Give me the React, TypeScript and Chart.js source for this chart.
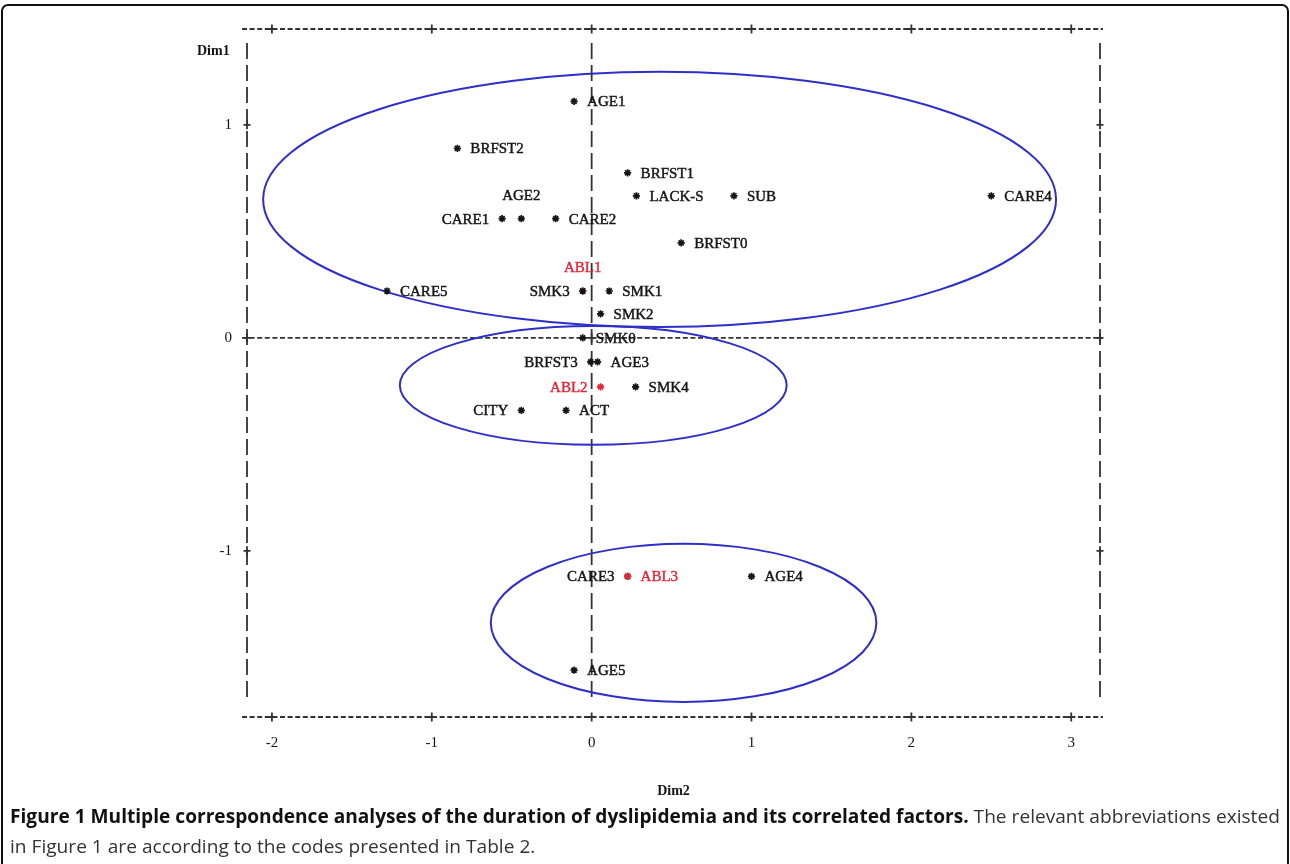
import React, { useEffect, useLayoutEffect, useRef, useState } from "react";
import { Chart, registerables } from "chart.js";

Chart.register(...registerables);

// ---------- data ----------
const pointLabels = [
  "AGE1", "BRFST2", "BRFST1", "LACK-S", "SUB", "CARE4", "CARE1", "AGE2", "CARE2",
  "BRFST0", "ABL1", "SMK3", "SMK1", "SMK2", "CARE5", "SMK0", "BRFST3", "AGE3",
  "ABL2", "SMK4", "CITY", "ACT", "CARE3", "ABL3", "AGE4", "AGE5",
];
const dim2Values = [
  -0.11, -0.84, 0.225, 0.28, 0.89, 2.5, -0.56, -0.44, -0.225,
  0.56, -0.056, -0.056, 0.11, 0.056, -1.28, -0.056, -0.006, 0.037,
  0.056, 0.275, -0.44, -0.16, 0.225, 0.225, 1.0, -0.11,
];
const dim1Values = [
  1.11, 0.89, 0.775, 0.667, 0.667, 0.667, 0.56, 0.56, 0.56,
  0.446, 0.22, 0.22, 0.22, 0.113, 0.22, 0.0, -0.113, -0.113,
  -0.23, -0.23, -0.34, -0.34, -1.12, -1.12, -1.12, -1.56,
];
// label side: r = right of mark, l = left of mark, a = above mark
const labelSide = [
  "r", "r", "r", "r", "r", "r", "l", "a", "r",
  "r", "a", "l", "r", "r", "r", "r", "l", "r",
  "l", "r", "l", "r", "l", "r", "r", "r",
];
const highlightedLabels = ["ABL1", "ABL2", "ABL3"];

const ellipseCx = [0.425, 0.01, 0.575];
const ellipseCy = [0.65, -0.223, -1.338];
const ellipseRx = [2.48, 1.21, 1.206];
const ellipseRy = [0.599, 0.279, 0.371];

const xTickValues = [-2, -1, 0, 1, 2, 3];
const xTickLabels = ["-2", "-1", "0", "1", "2", "3"];
const yTickValues = [-1, 0, 1];
const yTickLabels = ["-1", "0", "1"];

const X_MIN = -2.156;
const X_MAX = 3.18;
const Y_MIN = -1.78;
const Y_MAX = 1.45;

const xAxisTitle = "Dim2";
const yAxisTitle = "Dim1";

const captionBold =
  "Figure 1 Multiple correspondence analyses of the duration of dyslipidemia and its correlated factors.";
const captionRest1 = " The relevant abbreviations existed";
const captionLine2 = "in Figure 1 are according to the codes presented in Table 2.";

// ---------- styles ----------
const RED = "#e3283a";
const BLACK = "#151515";
const LINE = "#333333";
const ELLIPSE = "#2f2fc8";
const PLOT_FONT = '"Liberation Serif", "DejaVu Serif", serif';

export default function App() {
  const canvasRef = useRef<HTMLCanvasElement>(null);
  const line1Ref = useRef<HTMLSpanElement>(null);
  const [sx, setSx] = useState(1);

  useLayoutEffect(() => {
    const el = line1Ref.current;
    if (el && el.offsetWidth > 0) setSx(1270 / el.offsetWidth);
  }, []);

  useEffect(() => {
    const canvas = canvasRef.current;
    if (!canvas) return;
    const points = dim2Values.map((x, i) => ({ x, y: dim1Values[i] }));
    const colors = pointLabels.map((l) => (highlightedLabels.includes(l) ? RED : BLACK));

    const overlay = {
      id: "overlay",
      beforeDatasetsDraw(chart: any) {
        const { ctx, chartArea: ca, scales } = chart;
        const xs = scales.x;
        const ys = scales.y;
        const x0 = xs.getPixelForValue(0);
        const y0 = ys.getPixelForValue(0);
        ctx.save();
        ctx.strokeStyle = LINE;
        ctx.lineWidth = 1.8;
        // horizontal dashed lines
        ctx.setLineDash([5, 2.6]);
        for (const yy of [ca.top, ca.bottom, y0]) {
          ctx.beginPath();
          ctx.moveTo(ca.left - 5, yy);
          ctx.lineTo(ca.right + 3, yy);
          ctx.stroke();
        }
        // vertical dashed lines
        ctx.setLineDash([16, 6]);
        for (const xx of [ca.left, ca.right, x0]) {
          ctx.beginPath();
          ctx.moveTo(xx, ca.top + 14);
          ctx.lineTo(xx, ca.bottom - 14);
          ctx.stroke();
        }
        ctx.setLineDash([]);
        // plus tick marks
        ctx.lineWidth = 1.8;
        const plus = (px: number, py: number) => {
          ctx.beginPath();
          ctx.moveTo(px - 3.5, py);
          ctx.lineTo(px + 3.5, py);
          ctx.moveTo(px, py - 4.5);
          ctx.lineTo(px, py + 4.5);
          ctx.stroke();
        };
        xs.ticks.forEach((t: any) => {
          const px = xs.getPixelForValue(t.value);
          plus(px, ca.top);
          plus(px, ca.bottom);
        });
        ys.ticks.forEach((t: any) => {
          const py = ys.getPixelForValue(t.value);
          plus(ca.left, py);
          plus(ca.right, py);
        });
        plus(x0, y0);
        // ellipses
        ctx.strokeStyle = ELLIPSE;
        ctx.lineWidth = 2;
        for (let i = 0; i < ellipseCx.length; i++) {
          const cx = xs.getPixelForValue(ellipseCx[i]);
          const cy = ys.getPixelForValue(ellipseCy[i]);
          const rx = xs.getPixelForValue(ellipseCx[i] + ellipseRx[i]) - cx;
          const ry = cy - ys.getPixelForValue(ellipseCy[i] + ellipseRy[i]);
          ctx.beginPath();
          ctx.ellipse(cx, cy, rx, ry, 0, 0, Math.PI * 2);
          ctx.stroke();
        }
        ctx.restore();
      },
      afterDatasetsDraw(chart: any) {
        const { ctx, chartArea: ca } = chart;
        const meta = chart.getDatasetMeta(0);
        ctx.save();
        ctx.font = `15px ${PLOT_FONT}`;
        ctx.textBaseline = "middle";
        ctx.lineWidth = 0.45;
        meta.data.forEach((el: any, i: number) => {
          const label = pointLabels[i];
          const c = highlightedLabels.includes(label) ? RED : BLACK;
          ctx.fillStyle = c;
          ctx.strokeStyle = c;
          const side = labelSide[i];
          let tx = el.x;
          let ty = el.y + 1;
          if (side === "r") {
            ctx.textAlign = "left";
            tx = el.x + 13;
          } else if (side === "l") {
            ctx.textAlign = "right";
            tx = el.x - 13;
          } else {
            ctx.textAlign = "center";
            ty = el.y - 23;
          }
          ctx.fillText(label, tx, ty);
          ctx.strokeText(label, tx, ty);
        });
        ctx.font = `bold 14px ${PLOT_FONT}`;
        ctx.fillStyle = BLACK;
        ctx.textAlign = "left";
        ctx.fillText(yAxisTitle, ca.left - 50, ca.top + 22);
        ctx.restore();
      },
    };

    const chart = new Chart(canvas, {
      type: "scatter",
      data: {
        datasets: [
          {
            data: points,
            pointStyle: "star",
            pointRadius: 3.6,
            pointHoverRadius: 3.6,
            pointBorderWidth: 1.7,
            pointBorderColor: colors,
            pointBackgroundColor: colors,
          } as any,
        ],
      },
      options: {
        responsive: false,
        animation: false,
        events: [],
        layout: { padding: { left: 0, top: 29, right: 190, bottom: 64 } },
        plugins: { legend: { display: false }, tooltip: { enabled: false } },
        scales: {
          x: {
            type: "linear",
            min: X_MIN,
            max: X_MAX,
            afterBuildTicks: (s: any) => {
              s.ticks = xTickValues.map((v) => ({ value: v }));
            },
            afterFit: (s: any) => {
              s.height = 83;
            },
            grid: { display: false, drawTicks: false },
            border: { display: false },
            ticks: {
              font: { family: PLOT_FONT, size: 15 },
              color: BLACK,
              padding: 17,
              maxRotation: 0,
              autoSkip: false,
              callback: (_v: any, i: number) => xTickLabels[i],
            },
            title: {
              display: true,
              text: xAxisTitle,
              font: { family: PLOT_FONT, size: 14, weight: "bold" },
              color: BLACK,
              padding: 0,
            },
          },
          y: {
            type: "linear",
            min: Y_MIN,
            max: Y_MAX,
            afterBuildTicks: (s: any) => {
              s.ticks = yTickValues.map((v) => ({ value: v }));
            },
            afterFit: (s: any) => {
              s.width = 247;
            },
            grid: { display: false, drawTicks: false },
            border: { display: false },
            ticks: {
              font: { family: PLOT_FONT, size: 15 },
              color: BLACK,
              padding: 15,
              autoSkip: false,
              callback: (_v: any, i: number) => yTickLabels[i],
            },
          },
        },
      } as any,
      plugins: [overlay],
    });
    return () => chart.destroy();
  }, []);

  return (
    <div
      style={{
        position: "fixed",
        left: 0,
        top: 0,
        width: 1290,
        height: 864,
        overflow: "hidden",
        background: "#fff",
      }}
    >
      <div
        style={{
          position: "absolute",
          left: 1,
          top: 4,
          width: 1284,
          height: 900,
          border: "2px solid #111",
          borderRadius: 7,
        }}
      />
      <canvas
        ref={canvasRef}
        width={1290}
        height={864}
        style={{ position: "absolute", left: 0, top: 0, width: 1290, height: 864 }}
      />
      <div
        style={{
          position: "absolute",
          left: 10,
          top: 801,
          fontFamily: '"Open Sans", sans-serif',
          fontSize: 19,
          lineHeight: "30px",
          color: "#333",
          whiteSpace: "nowrap",
          transform: `scaleX(${sx})`,
          transformOrigin: "left top",
        }}
      >
        <span ref={line1Ref} style={{ display: "inline-block" }}>
          <b style={{ color: "#111" }}>{captionBold}</b>
          {captionRest1}
        </span>
        <br />
        <span>{captionLine2}</span>
      </div>
    </div>
  );
}
